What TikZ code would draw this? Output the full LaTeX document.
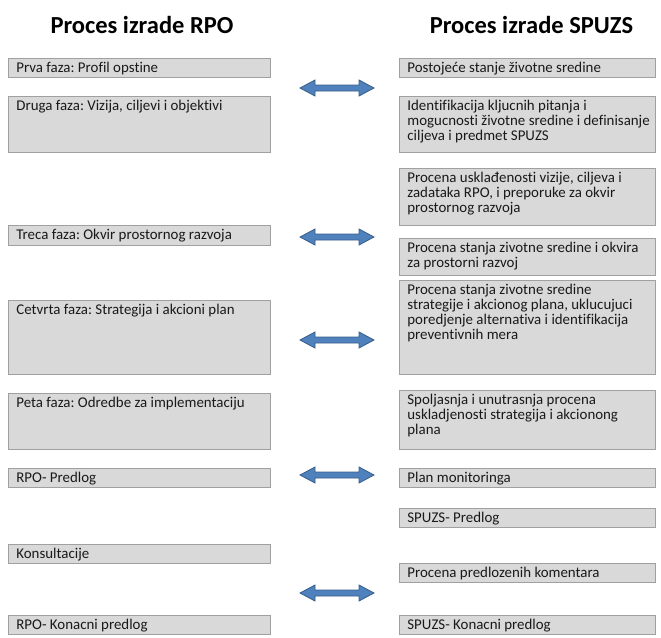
\documentclass[tikz,border=0pt]{standalone}
\usepackage{fontspec}
\setmainfont{Carlito}[Ligatures={NoCommon}]
\frenchspacing
\definecolor{boxfill}{HTML}{D9D9D9}
\definecolor{boxline}{HTML}{A0A0A0}
\definecolor{arrfill}{HTML}{4F81BD}
\definecolor{arrline}{HTML}{385D8A}
\newcommand\bx[6]{\node[box] (#1) at (#2,#3) {\parbox[c][#5pt][t]{#4pt}{\frenchspacing\raggedright\leftskip=8pt\rule{0pt}{14.5pt}#6}};}
\tikzset{
  box/.style={draw=boxline, fill=boxfill, line width=0.8pt, anchor=north west,
    inner sep=0pt, text=black!90,
    font=\fontsize{14.9}{15}\selectfont},
  title/.style={anchor=base, inner sep=0pt, font=\bfseries\fontsize{24.5}{28}\selectfont},
  arr/.style={draw=arrline, fill=arrfill, line width=0.8pt, line join=miter},
  dblarrow/.pic={\path[arr] (-37,0) -- (-22,-8) -- (-22,-3) -- (22,-3) -- (22,-8) -- (37,0)
      -- (22,8) -- (22,3) -- (-22,3) -- (-22,8) -- cycle;}
}
\begin{document}
\begin{tikzpicture}[x=1pt,y=-1pt]
\useasboundingbox (0,0) rectangle (661,637);
\node[title] (t1) at (142,33) {Proces izrade RPO};
\node[title] (t2) at (531.5,33) {Proces izrade SPUZS};
% left column
\bx{L1}{8}{58}{262}{19}{Prva faza: Profil opstine}
\bx{L2}{8}{96}{262}{56}{Druga faza: Vizija, ciljevi i objektivi}
\bx{L3}{8}{225}{262}{20}{Treca faza: Okvir prostornog razvoja}
\bx{L4}{8}{300}{262}{74}{Cetvrta faza: Strategija i akcioni plan}
\bx{L5}{8}{393}{262}{56}{Peta faza: Odredbe za implementaciju}
\bx{L6}{8}{468}{262}{19}{RPO- Predlog}
\bx{L7}{8}{544}{262}{19}{Konsultacije}
\bx{L8}{8}{615}{262}{19}{RPO- Konacni predlog}
% right column
\bx{R1}{399}{58}{256}{19}{Postojeće stanje životne sredine}
\bx{R2}{399}{96}{256}{56}{Identifikacija kljucnih pitanja i\\mogucnosti životne sredine i definisanje\\ciljeva i predmet SPUZS}
\bx{R3}{399}{168}{256}{57}{Procena usklađenosti vizije, ciljeva i\\zadataka RPO, i preporuke za okvir\\prostornog razvoja}
\bx{R4}{399}{238}{256}{37}{Procena stanja zivotne sredine i okvira\\za prostorni razvoj}
\bx{R5}{399}{280}{256}{94}{Procena stanja zivotne sredine\\strategije i akcionog plana, uklucujuci\\poredjenje alternativa i identifikacija\\preventivnih mera}
\bx{R6}{399}{390}{256}{59}{Spoljasnja i unutrasnja procena\\uskladjenosti strategija i akcionong\\plana}
\bx{R7}{399}{468}{256}{19}{Plan monitoringa}
\bx{R8}{399}{508}{256}{19}{SPUZS- Predlog}
\bx{R9}{399}{563}{256}{19}{Procena predlozenih komentara}
\bx{R10}{399}{615}{256}{19}{SPUZS- Konacni predlog}
% arrows
\pic (a1) at (337,88) {dblarrow};
\pic (a2) at (337,237) {dblarrow};
\pic (a3) at (337,340) {dblarrow};
\pic (a4) at (337,475) {dblarrow};
\pic (a5) at (337,593) {dblarrow};
\end{tikzpicture}
\end{document}
